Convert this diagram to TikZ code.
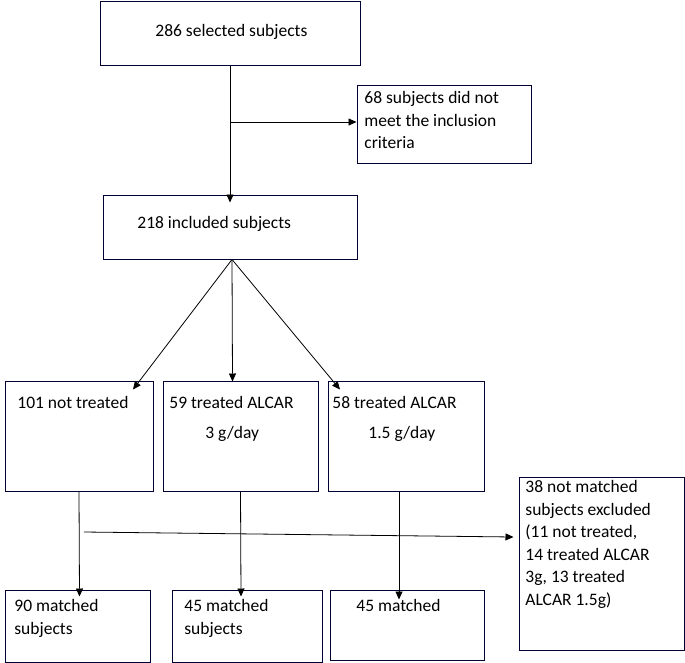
\documentclass[tikz,border=0pt]{standalone}
\usepackage{fontspec}
\setmainfont{Carlito}
\usetikzlibrary{arrows.meta}
\tikzset{>={Triangle[length=8pt,width=7pt]}}
\tikzstyle{box}=[draw=black!80!blue,line width=1pt,inner sep=0pt]
\tikzstyle{txt}=[anchor=north west,align=left,inner sep=0pt,font=\fontsize{17.5}{22.5}\selectfont]
\begin{document}
\begin{tikzpicture}[x=1pt,y=-1pt,line width=0.8pt]
			\useasboundingbox (0,0) rectangle (685,662);
			
			% Boxes
			\node[box,minimum width=260,minimum height=64] (sel) at (230,33) {};
			\node[box,minimum width=174,minimum height=78] (excl) at (444,124) {};
			\node[box,minimum width=254,minimum height=64] (inc) at (230,227) {};
			\node[box,minimum width=148,minimum height=110] (nt) at (79,436) {};
			\node[box,minimum width=155,minimum height=110] (ta) at (240.5,436) {};
			\node[box,minimum width=156,minimum height=110] (tb) at (406,436) {};
			\node[box,minimum width=165,minimum height=173] (nm) at (601.5,563.5) {};
			\node[box,minimum width=145,minimum height=72] (ma) at (77.5,626) {};
			\node[box,minimum width=150,minimum height=72] (mb) at (247,626) {};
			\node[box,minimum width=154,minimum height=70] (mc) at (407,625) {};
			
			% Texts
			\node[txt] (tsel) at (155,24) {286 selected subjects};
			\node[txt] (texcl) at (364,91) {68 subjects did not\\meet the inclusion\\criteria};
			\node[txt] (tinc) at (137,216) {218 included subjects};
			\node[txt] (tnt) at (17,396) {101 not treated};
			\node[txt] (tta) at (169,396) {59 treated ALCAR\\[7pt]\hspace*{36pt}3 g/day};
			\node[txt] (ttb) at (332,396) {58 treated ALCAR\\[7pt]\hspace*{36pt}1.5 g/day};
			\node[txt] (tnm) at (525,480) {38 not matched\\subjects excluded\\(11 not treated,\\14 treated ALCAR\\3g, 13 treated\\ALCAR 1.5g)};
			\node[txt] (tma) at (14,599) {90 matched\\subjects};
			\node[txt] (tmb) at (184,599) {45 matched\\subjects};
			\node[txt] (tmc) at (356,599) {45 matched};
			
			% Arrows
			\coordinate (s1) at (230,122);
			\coordinate (h1) at (84,532);
			\draw[->] (sel.south) -- ([yshift=-8]inc.north);
			\draw[->] (s1) -- (excl.west |- s1);
			\draw[->] ([xshift=2]inc.south) -- ([xshift=54,yshift=-9]nt.north);
			\draw[->] ([xshift=2]inc.south) -- ([xshift=-8,yshift=-1]ta.north);
			\draw[->] ([xshift=2]inc.south) -- ([xshift=-66,yshift=-9]tb.north);
			\draw[->] (nt.south) -- ([xshift=2,yshift=-7]ma.north);
			\draw[->] (ta.south) -- ([xshift=-6,yshift=-7]mb.north);
			\draw[->] ([xshift=-7]tb.south) -- ([xshift=-8,yshift=-10]mc.north);
			\draw[->] (h1) -- ([xshift=-5]nm.west |- 0,537);
\end{tikzpicture}
\end{document}
